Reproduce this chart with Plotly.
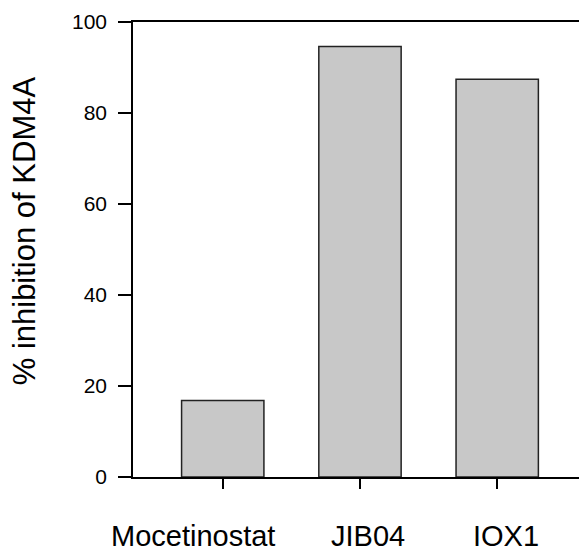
import plotly.graph_objects as go

categories = ["Mocetinostat", "JIB04", "IOX1"]
values = [16.8, 94.6, 87.4]
y_ticks = [0, 20, 40, 60, 80, 100]
y_title = "% inhibition of KDM4A"
label_shifts = [-30, 8, 9]

FONT = "Liberation Sans, Arial, Helvetica, sans-serif"

fig = go.Figure()
fig.add_trace(go.Bar(
    x=categories, y=values, width=0.6,
    marker=dict(color="#c8c8c8", line=dict(color="#222222", width=1.5)),
    showlegend=False,
))

for cat, dx in zip(categories, label_shifts):
    fig.add_annotation(
        x=cat, y=0, xref="x", yref="y", text=cat, showarrow=False,
        xanchor="center", yanchor="top", xshift=dx, yshift=-41,
        font=dict(family=FONT, size=29, color="black"),
    )

fig.add_annotation(
    x=0, y=0.54, xref="paper", yref="paper", text=y_title, showarrow=False,
    textangle=-90, xanchor="center", yanchor="middle", xshift=-109,
    font=dict(family=FONT, size=31, color="black"),
)

fig.update_layout(
    width=579, height=552,
    margin=dict(l=133, r=0, t=22, b=75),
    paper_bgcolor="white", plot_bgcolor="white",
    font=dict(family=FONT, color="black"),
    xaxis=dict(
        range=[-0.654, 2.596], showline=True, linecolor="black", linewidth=1.5,
        mirror=True, ticks="outside", ticklen=10, tickwidth=1.5, tickcolor="black",
        showticklabels=False, showgrid=False, zeroline=False,
    ),
    yaxis=dict(
        range=[0, 100], tickvals=y_ticks, showline=True, linecolor="black",
        linewidth=1.5, ticks="outside", ticklen=13, tickwidth=1.5, tickcolor="black",
        tickfont=dict(family=FONT, size=21, color="black"), ticklabelstandoff=7,
        showgrid=False, zeroline=False,
    ),
)

fig.write_html("out.html")
